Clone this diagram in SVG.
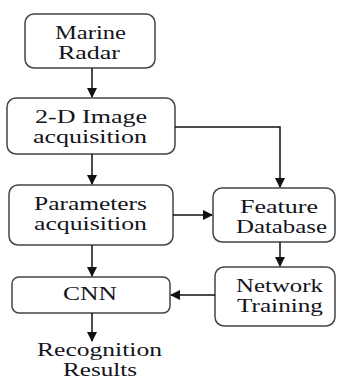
<svg xmlns="http://www.w3.org/2000/svg" width="339" height="380" viewBox="0 0 339 380">
<defs>
<marker id="ah" markerWidth="10" markerHeight="10" refX="9" refY="5" orient="auto" markerUnits="userSpaceOnUse">
<path d="M0,0 L10,5 L0,10 Z" fill="#111"/>
</marker>
<style>
.box{fill:#fff;stroke:#444;stroke-width:1.5}
.t{font-family:'Liberation Serif','DejaVu Serif','Times New Roman',serif;font-size:18px;fill:#141420;text-anchor:middle}
.c{stroke:#111;stroke-width:1.5;fill:none;marker-end:url(#ah)}
</style>
</defs>
<rect width="339" height="380" fill="#fff"/>
<g id="marine-radar">
<rect class="box" x="25" y="14" width="130" height="54" rx="9"/>
<text class="t" x="90.5" y="39" textLength="71" lengthAdjust="spacingAndGlyphs">Marine</text>
<text class="t" x="89" y="59" textLength="62" lengthAdjust="spacingAndGlyphs">Radar</text>
</g>
<g id="image-acq">
<rect class="box" x="7" y="98" width="168" height="56" rx="9"/>
<text class="t" x="91" y="123" textLength="112" lengthAdjust="spacingAndGlyphs">2-D Image</text>
<text class="t" x="90" y="143" textLength="114" lengthAdjust="spacingAndGlyphs">acquisition</text>
</g>
<g id="param-acq">
<rect class="box" x="9" y="185" width="164" height="60" rx="9"/>
<text class="t" x="90.5" y="210" textLength="113" lengthAdjust="spacingAndGlyphs">Parameters</text>
<text class="t" x="90.5" y="230" textLength="113" lengthAdjust="spacingAndGlyphs">acquisition</text>
</g>
<g id="feature-db">
<rect class="box" x="213" y="188" width="122" height="54" rx="9"/>
<text class="t" x="279" y="213" textLength="78" lengthAdjust="spacingAndGlyphs">Feature</text>
<text class="t" x="281.5" y="233" textLength="91" lengthAdjust="spacingAndGlyphs">Database</text>
</g>
<g id="network-training">
<rect class="box" x="215" y="267" width="120" height="59" rx="9"/>
<text class="t" x="279.5" y="292" textLength="87" lengthAdjust="spacingAndGlyphs">Network</text>
<text class="t" x="280" y="312" textLength="86" lengthAdjust="spacingAndGlyphs">Training</text>
</g>
<g id="cnn">
<rect class="box" x="12" y="277" width="158" height="36" rx="7"/>
<text class="t" x="90" y="300" textLength="54" lengthAdjust="spacingAndGlyphs">CNN</text>
</g>
<g id="results">
<text class="t" x="99.5" y="356" textLength="125" lengthAdjust="spacingAndGlyphs">Recognition</text>
<text class="t" x="100" y="376" textLength="74" lengthAdjust="spacingAndGlyphs">Results</text>
</g>
<g id="connectors">
<path class="c" d="M92,68 V97"/>
<path class="c" d="M92,154 V184"/>
<path class="c" d="M175,127 H280 V187"/>
<path class="c" d="M173,215 H212"/>
<path class="c" d="M280,242 V266"/>
<path class="c" d="M92,245 V276"/>
<path class="c" d="M215,295 H171"/>
<path class="c" d="M92,313 V341"/>
</g>
</svg>
